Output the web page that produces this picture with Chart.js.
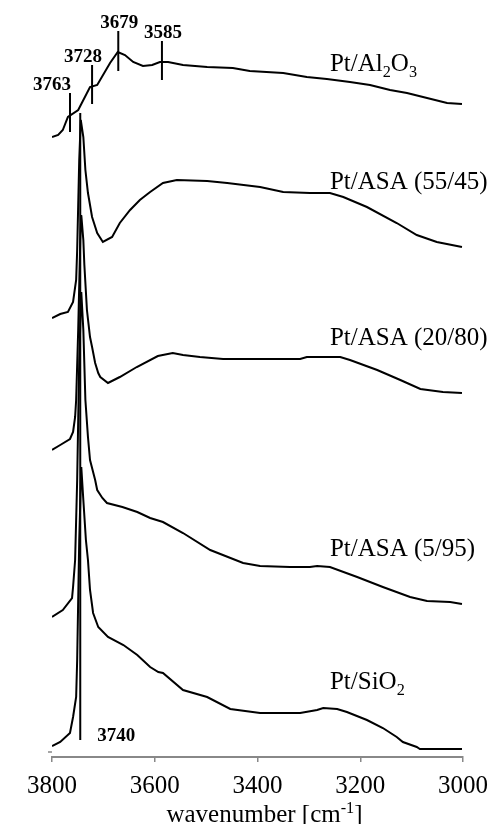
<!DOCTYPE html>
<html>
<head>
<meta charset="utf-8">
<script src="https://cdn.jsdelivr.net/npm/chart.js@4"></script>
<style>
  html, body { margin: 0; padding: 0; background: #fff; }
  #wrap { width: 493px; height: 824px; }
</style>
</head>
<body>
<div id="wrap"><canvas id="myChart"></canvas></div>
<script>
// wavenumbers (cm-1) and stacked absorbance (a.u., offset per trace)
const wnAl = [3800, 3788, 3779, 3769, 3749, 3726, 3712, 3687, 3672, 3658, 3642, 3623, 3605, 3590, 3574, 3545, 3498, 3448, 3415, 3350, 3304, 3265, 3220, 3181, 3142, 3109, 3070, 3031, 3002];
const absAl = [62.0, 62.2, 62.7, 64.0, 64.7, 67.0, 67.2, 69.4, 70.5, 70.2, 69.5, 69.1, 69.2, 69.5, 69.5, 69.2, 69.0, 68.9, 68.6, 68.4, 68.0, 67.8, 67.5, 67.2, 66.7, 66.4, 65.9, 65.4, 65.3];

const wn5545 = [3800, 3784, 3769, 3759, 3753, 3751, 3747, 3744, 3739, 3735, 3730, 3722, 3712, 3701, 3683, 3668, 3648, 3629, 3609, 3584, 3557, 3498, 3459, 3395, 3350, 3298, 3259, 3233, 3187, 3129, 3090, 3051, 3002];
const abs5545 = [43.9, 44.3, 44.5, 45.5, 47.7, 50.7, 59.7, 63.7, 62.0, 58.7, 56.4, 54.0, 52.4, 51.5, 52.0, 53.4, 54.7, 55.7, 56.5, 57.4, 57.7, 57.6, 57.4, 57.0, 56.5, 56.4, 56.4, 56.0, 55.0, 53.4, 52.2, 51.5, 51.0];

const wn2080 = [3800, 3784, 3765, 3759, 3755, 3753, 3749, 3745, 3743, 3739, 3737, 3732, 3726, 3722, 3716, 3710, 3706, 3691, 3668, 3635, 3594, 3565, 3545, 3512, 3467, 3317, 3304, 3239, 3220, 3167, 3122, 3083, 3039, 3002];
const abs2080 = [30.7, 31.2, 31.8, 32.5, 34.0, 35.7, 42.7, 51.7, 54.2, 51.7, 49.2, 44.7, 42.0, 41.0, 39.4, 38.4, 38.0, 37.4, 38.0, 39.0, 40.1, 40.4, 40.2, 40.0, 39.8, 39.8, 40.0, 40.0, 39.7, 38.7, 37.7, 36.8, 36.5, 36.4];

const wn595 = [3800, 3779, 3761, 3759, 3755, 3751, 3747, 3743, 3739, 3735, 3730, 3726, 3716, 3712, 3702, 3693, 3663, 3634, 3609, 3584, 3545, 3492, 3428, 3395, 3337, 3298, 3284, 3259, 3206, 3156, 3103, 3070, 3025, 3002];
const abs595 = [14.0, 14.7, 15.9, 17.0, 19.7, 27.7, 39.7, 46.5, 42.7, 35.7, 32.0, 29.7, 27.7, 26.7, 25.9, 25.4, 25.0, 24.5, 23.9, 23.5, 22.4, 20.7, 19.4, 19.1, 19.0, 19.0, 19.1, 19.0, 18.0, 17.0, 16.0, 15.6, 15.5, 15.3];

const wnSi = [3800, 3784, 3765, 3759, 3753, 3751, 3747, 3743, 3739, 3734, 3730, 3726, 3720, 3710, 3691, 3661, 3634, 3609, 3593, 3584, 3545, 3498, 3453, 3395, 3317, 3284, 3272, 3245, 3226, 3187, 3156, 3129, 3117, 3090, 3084, 3002];
const absSi = [1.1, 1.5, 2.4, 4.0, 6.0, 9.7, 21.7, 29.0, 25.7, 21.7, 19.7, 16.7, 14.4, 13.0, 12.0, 11.2, 10.2, 9.0, 8.5, 8.4, 6.7, 6.0, 4.8, 4.4, 4.4, 4.7, 4.9, 4.8, 4.5, 3.7, 2.9, 2.0, 1.5, 1.0, 0.8, 0.8];

const seriesNames = ["Pt/Al_2O_3", "Pt/ASA (55/45)", "Pt/ASA (20/80)", "Pt/ASA (5/95)", "Pt/SiO_2"];

// band markers: where the line sits, its label, and its vertical extent
const markerWn = [3765, 3722, 3671, 3586, 3745];
const markerText = ["3763", "3728", "3679", "3585", "3740"];
const markerLow = [62.5, 65.3, 68.6, 67.7, 1.7];
const markerHigh = [66.4, 69.2, 72.6, 71.6, 64.4];

const xTicks = [3800, 3600, 3400, 3200, 3000];

const SERIF = "'Liberation Serif', 'Times New Roman', serif";

function pts(xs, ys) {
  return xs.map((x, i) => ({ x: x, y: ys[i] }));
}

// draws text with _x subscripts and ^{..} superscripts
function richParts(str) {
  const parts = [];
  const re = /_\{([^}]*)\}|_(.)|\^\{([^}]*)\}|\^(.)/g;
  let last = 0, m;
  while ((m = re.exec(str)) !== null) {
    if (m.index > last) parts.push({ t: str.slice(last, m.index), k: 0 });
    if (m[1] !== undefined || m[2] !== undefined) parts.push({ t: m[1] || m[2], k: -1 });
    else parts.push({ t: m[3] || m[4], k: 1 });
    last = re.lastIndex;
  }
  if (last < str.length) parts.push({ t: str.slice(last), k: 0 });
  return parts;
}

function richWidth(ctx, parts, size) {
  let w = 0;
  parts.forEach(p => {
    ctx.font = (p.k ? size * 0.65 : size) + "px " + SERIF;
    w += ctx.measureText(p.t).width;
  });
  return w;
}

function drawRich(ctx, str, x, y, size, align) {
  const parts = richParts(str);
  const w = richWidth(ctx, parts, size);
  let cx = align === "center" ? x - w / 2 : x;
  ctx.textAlign = "left";
  ctx.textBaseline = "alphabetic";
  parts.forEach(p => {
    const s = p.k ? size * 0.65 : size;
    ctx.font = s + "px " + SERIF;
    const dy = p.k === -1 ? size * 0.22 : p.k === 1 ? -size * 0.38 : 0;
    ctx.fillText(p.t, cx, y + dy);
    cx += ctx.measureText(p.t).width;
  });
}

const annotPlugin = {
  id: "annot",
  afterDatasetsDraw(chart, args, opts) {
    const ctx = chart.ctx;
    const xs = chart.scales.x, ys = chart.scales.y;
    ctx.save();
    ctx.fillStyle = "#000";

    // trace names
    seriesNames.forEach((name, i) => {
      drawRich(ctx, name, xs.getPixelForValue(opts.nameWn), ys.getPixelForValue(opts.nameY[i]), 25, "left");
    });

    // band marker labels
    ctx.font = "bold 19px " + SERIF;
    ctx.textAlign = "center";
    ctx.textBaseline = "alphabetic";
    markerText.forEach((t, i) => {
      const px = xs.getPixelForValue(markerWn[i]) + opts.markDx[i];
      const py = i === 4
        ? ys.getPixelForValue(markerLow[i]) + 1
        : ys.getPixelForValue(markerHigh[i]) - 3;
      ctx.fillText(t, px, py);
    });

    // stray y-axis tick seen at bottom left
    ctx.strokeStyle = "#888";
    ctx.lineWidth = 1.5;
    ctx.beginPath();
    const ty = ys.getPixelForValue(0.5);
    ctx.moveTo(chart.chartArea.left - 4, ty);
    ctx.lineTo(chart.chartArea.left, ty);
    ctx.stroke();

    // axis title
    const ca = chart.chartArea;
    drawRich(ctx, "wavenumber [cm^{-1}]", (ca.left + ca.right) / 2 + opts.titleDx, chart.height - 2, 25, "center");
    ctx.restore();
  }
};

const lineStyle = { borderColor: "#000", borderWidth: 2, pointRadius: 0, tension: 0, fill: false };

const datasets = [
  { label: seriesNames[0], data: pts(wnAl, absAl), ...lineStyle },
  { label: seriesNames[1], data: pts(wn5545, abs5545), ...lineStyle },
  { label: seriesNames[2], data: pts(wn2080, abs2080), ...lineStyle },
  { label: seriesNames[3], data: pts(wn595, abs595), ...lineStyle },
  { label: seriesNames[4], data: pts(wnSi, absSi), ...lineStyle },
];
markerWn.forEach((w, i) => {
  datasets.push({
    label: "mark " + markerText[i],
    data: [{ x: w, y: markerLow[i] }, { x: w, y: markerHigh[i] }],
    borderColor: "#000",
    borderWidth: 2,
    pointRadius: 0,
  });
});

new Chart(document.getElementById("myChart"), {
  type: "line",
  data: { datasets: datasets },
  plugins: [annotPlugin],
  options: {
    responsive: true,
    maintainAspectRatio: false,
    animation: false,
    layout: { padding: { left: 52, right: 30, top: 10, bottom: 0 } },
    plugins: {
      legend: { display: false },
      tooltip: { enabled: false },
      annot: {
        nameWn: 3259,
        nameY: [68.6, 56.8, 41.2, 20.1, 6.8],
        markDx: [-18, -9, 1, 1, 36],
        titleDx: 7,
      },
    },
    scales: {
      x: {
        type: "linear",
        reverse: true,
        min: 3000,
        max: 3800,
        afterBuildTicks: (scale) => { scale.ticks = xTicks.map(v => ({ value: v })); },
        afterFit: (scale) => {
          scale.height = 67;
          scale.paddingLeft = 0;
          scale.paddingRight = 0;
        },
        grid: { drawOnChartArea: false, drawTicks: true, tickLength: 5, color: "#888", lineWidth: 1.5 },
        border: { color: "#888", width: 2 },
        ticks: {
          color: "#000",
          padding: 9,
          maxRotation: 0,
          font: { family: SERIF, size: 25 },
          callback: (v) => String(v),
        },
      },
      y: {
        display: false,
        min: 0,
        max: 74.7,
      },
    },
  },
});
</script>
</body>
</html>
